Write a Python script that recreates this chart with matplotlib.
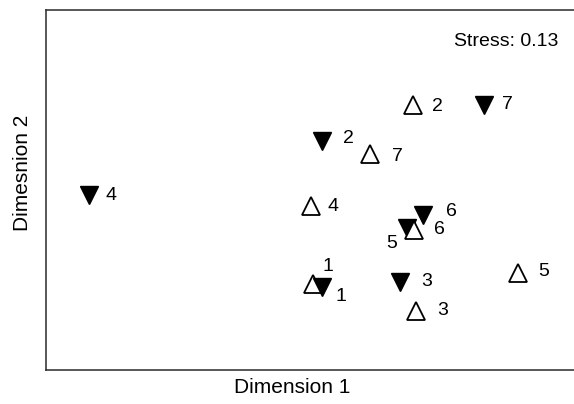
import numpy as np
import matplotlib
matplotlib.use('Agg')
import matplotlib.pyplot as plt

plt.rcParams['font.family'] = ['Liberation Sans', 'DejaVu Sans']

# NMDS site scores for the two sampling groups (sites 1-7)
sites = ['1', '2', '3', '4', '5', '6', '7']
filled_x = [0.05, 0.05, 0.49, -1.26, 0.53, 0.62, 0.96]
filled_y = [-0.54, 0.27, -0.51, -0.03, -0.21, -0.14, 0.47]
open_x = [0.00, 0.56, 0.58, -0.01, 1.15, 0.57, 0.32]
open_y = [-0.52, 0.47, -0.67, -0.09, -0.46, -0.22, 0.20]
stress = 0.13

# label offsets in points (dx, dy)
filled_off = [(14, -7), (19, 2), (19, 0), (16, 0), (-11, -11), (20, 3), (17, 1)]
open_off = [(11, 12), (18, -1), (19, 0), (16, 0), (19, 1), (18, 0), (20, -2)]

fig = plt.figure(figsize=(5.74, 4.04), dpi=100)
ax = fig.add_axes([46/574, 34/404, 544/574, 360/404])

for i in range(len(sites)):
    ax.plot(open_x[i], open_y[i], marker='^', ms=13, mfc='white', mec='black',
            mew=1.3, ls='none', zorder=3)
    ax.plot(filled_x[i], filled_y[i], marker='v', ms=13, mfc='black', mec='black',
            ls='none', zorder=3)
    ax.annotate(sites[i], (open_x[i], open_y[i]), xytext=open_off[i],
                textcoords='offset points', ha='center', va='center', fontsize=14)
    ax.annotate(sites[i], (filled_x[i], filled_y[i]), xytext=filled_off[i],
                textcoords='offset points', ha='center', va='center', fontsize=14)

ax.set_xlim(-1.5, 1.556)
ax.set_ylim(-1.0, 1.0)
ax.set_xticks([])
ax.set_yticks([])
for s in ax.spines.values():
    s.set_linewidth(1.1)
    s.set_color('#2a2a2a')

ax.text(558/574, 1 - 41/404, 'Stress: %.2f' % stress, transform=fig.transFigure,
        ha='right', va='center', fontsize=14)

ax.set_xlabel('Dimension 1', fontsize=15)
ax.set_ylabel('Dimesnion 2', fontsize=15)
ax.xaxis.set_label_coords((292 - 46) / 544, -(378 - 370) / 360)
ax.yaxis.set_label_coords(-(46 - 32) / 544, (370 - 173) / 360)

fig.savefig('out.png', dpi=100)
